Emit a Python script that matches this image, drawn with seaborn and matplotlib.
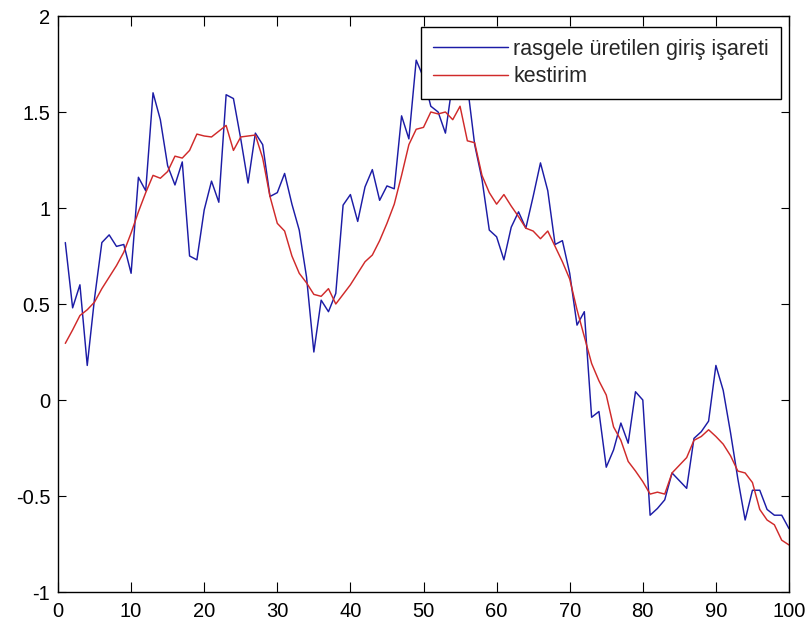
import numpy as np
import pandas as pd
import matplotlib
matplotlib.use("Agg")
import matplotlib.pyplot as plt
import seaborn as sns

# ---- data ----
n_index = list(range(1, 101))
giris = [0.82, 0.48, 0.60, 0.18, 0.53, 0.82, 0.86, 0.80, 0.81, 0.66,
         1.16, 1.09, 1.60, 1.46, 1.22, 1.12, 1.24, 0.75, 0.73, 0.99,
         1.14, 1.03, 1.59, 1.57, 1.36, 1.13, 1.39, 1.33, 1.06, 1.08,
         1.18, 1.02, 0.885, 0.64, 0.25, 0.52, 0.46, 0.555, 1.015, 1.07,
         0.93, 1.11, 1.20, 1.04, 1.115, 1.10, 1.48, 1.36, 1.77, 1.68,
         1.53, 1.50, 1.39, 1.66, 1.60, 1.64, 1.33, 1.15, 0.885, 0.85,
         0.73, 0.90, 0.98, 0.895, 1.06, 1.235, 1.09, 0.81, 0.83, 0.66,
         0.39, 0.46, -0.09, -0.06, -0.35, -0.26, -0.12, -0.225, 0.043, 0.0,
         -0.60, -0.565, -0.52, -0.38, -0.42, -0.46, -0.20, -0.165, -0.11, 0.18,
         0.05, -0.17, -0.41, -0.625, -0.47, -0.47, -0.57, -0.60, -0.60, -0.67]
kestirim = [0.295, 0.365, 0.44, 0.47, 0.51, 0.58, 0.64, 0.70, 0.77, 0.87,
            0.98, 1.08, 1.17, 1.155, 1.19, 1.27, 1.26, 1.30, 1.385, 1.375,
            1.37, 1.40, 1.43, 1.30, 1.37, 1.375, 1.38, 1.26, 1.06, 0.92,
            0.88, 0.75, 0.66, 0.61, 0.55, 0.54, 0.58, 0.50, 0.55, 0.60,
            0.66, 0.72, 0.755, 0.83, 0.92, 1.02, 1.17, 1.33, 1.41, 1.42,
            1.50, 1.49, 1.50, 1.46, 1.53, 1.35, 1.34, 1.17, 1.08, 1.02,
            1.07, 1.01, 0.955, 0.895, 0.88, 0.84, 0.88, 0.80, 0.72, 0.63,
            0.47, 0.33, 0.19, 0.10, 0.026, -0.14, -0.21, -0.32, -0.37, -0.425,
            -0.49, -0.48, -0.49, -0.38, -0.34, -0.30, -0.21, -0.19, -0.155, -0.19,
            -0.23, -0.29, -0.37, -0.38, -0.43, -0.57, -0.625, -0.65, -0.73, -0.755]
series_names = ["rasgele üretilen giriş işareti", "kestirim"]
x_ticks = [0, 10, 20, 30, 40, 50, 60, 70, 80, 90, 100]
y_ticks = [-1, -0.5, 0, 0.5, 1, 1.5, 2]
y_ticklabels = ["-1", "-0.5", "0", "0.5", "1", "1.5", "2"]

df = pd.DataFrame({
    "n": n_index * 2,
    "deger": giris + kestirim,
    "seri": [series_names[0]] * len(giris) + [series_names[1]] * len(kestirim),
})

sns.set_style("white")
plt.rcParams["font.family"] = ["Liberation Sans", "DejaVu Sans"]

fig = plt.figure(figsize=(8.11, 6.26), dpi=100)
fig.patch.set_facecolor("white")
ax = fig.add_axes([58 / 811, 1 - 592 / 626, 731 / 811, 576 / 626])

sns.lineplot(data=df, x="n", y="deger", hue="seri",
             palette={series_names[0]: "#1c1ca6", series_names[1]: "#d02a2a"},
             linewidth=1.05, ax=ax, legend=True, estimator=None, sort=False)

ax.set_xlim(0, 100)
ax.set_ylim(-1, 2)
ax.set_xticks(x_ticks)
ax.set_xticklabels([str(t) for t in x_ticks])
ax.set_yticks(y_ticks)
ax.set_yticklabels(y_ticklabels)
ax.set_xlabel("")
ax.set_ylabel("")
ax.tick_params(direction="in", width=0.8, top=True, right=True,
               bottom=True, left=True, labelsize=14.5, colors="black")
ax.tick_params(axis="x", length=7, pad=7.5)
ax.tick_params(axis="y", length=5.5, pad=5.5)
for s in ax.spines.values():
    s.set_color("black")
    s.set_linewidth(1.0)
    s.set_visible(True)

handles, labels = ax.get_legend_handles_labels()
leg = ax.legend(handles, labels, loc="upper right",
                bbox_to_anchor=((781 - 58) / 731, (592 - 27) / 576),
                borderaxespad=0, fancybox=False, framealpha=1, edgecolor="black",
                fontsize=15.5, handlelength=3.5, handletextpad=0.25,
                borderpad=0.55, labelspacing=0.3)
leg.get_frame().set_linewidth(1.0)

fig.savefig("out.png", dpi=100, facecolor="white")
